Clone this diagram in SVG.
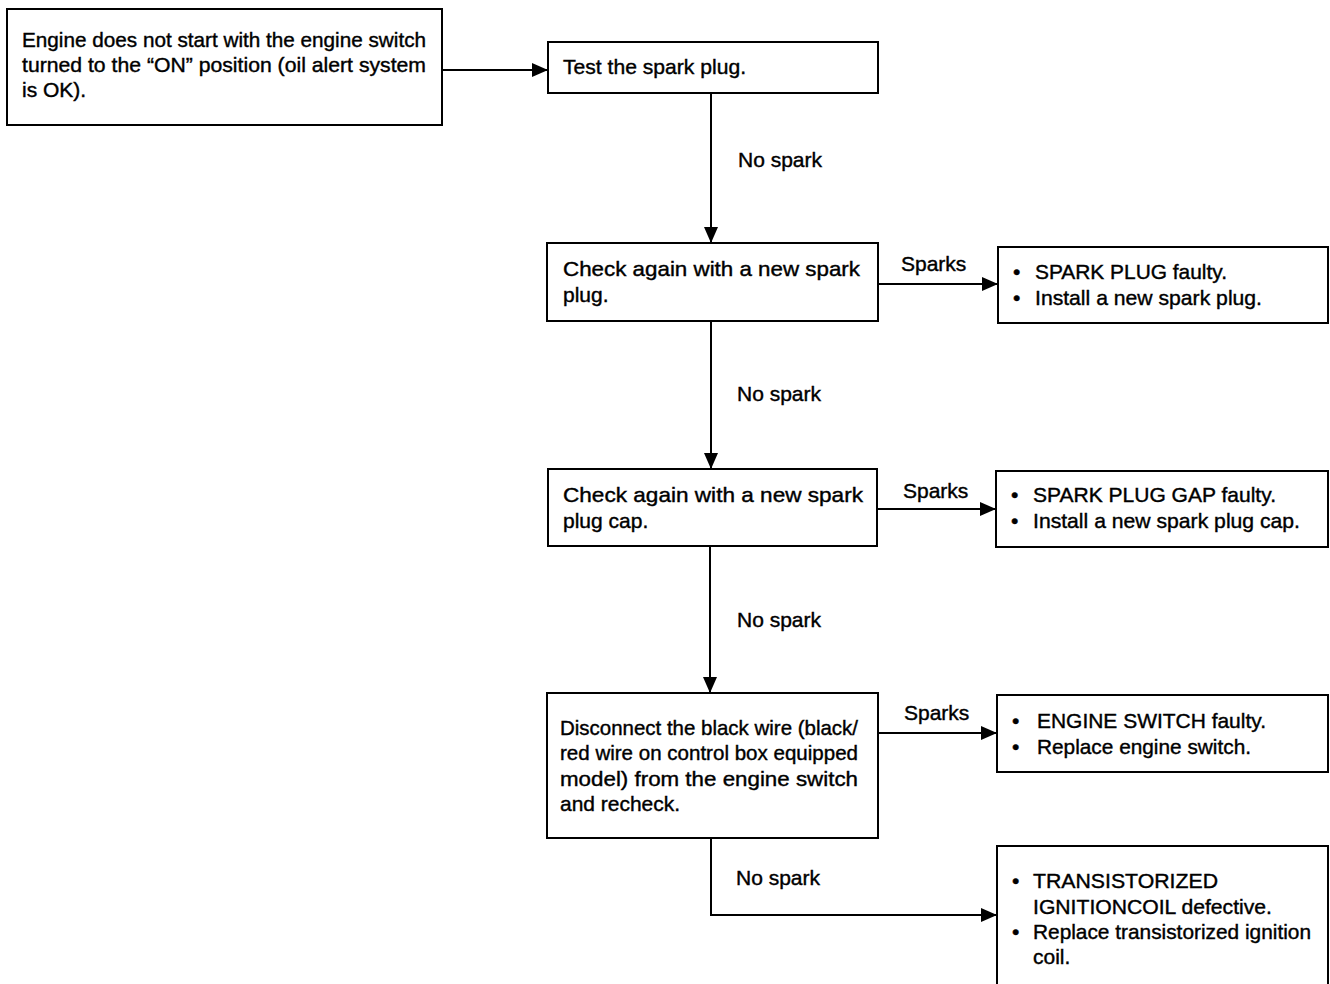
<svg xmlns="http://www.w3.org/2000/svg" width="1330" height="984" viewBox="0 0 1330 984">
<style>
.box{fill:#fff;stroke:#000;stroke-width:2}
.t{font-family:"Liberation Sans",Arial,sans-serif;font-size:21px;fill:#000;stroke:#000;stroke-width:0.4}
.c{fill:none;stroke:#000;stroke-width:2}
</style>
<defs>
<marker id="ah" markerUnits="userSpaceOnUse" markerWidth="16" markerHeight="16" viewBox="0 0 16 16" refX="15" refY="8" orient="auto">
<path d="M0,1 L16,8 L0,15 Z" fill="#000"/>
</marker>
</defs>
<rect width="1330" height="984" fill="#fff"/>
<g id="connectors">
<line class="c" x1="442" y1="70" x2="547" y2="70" marker-end="url(#ah)"/>
<line class="c" x1="711" y1="93" x2="711" y2="242" marker-end="url(#ah)"/>
<line class="c" x1="878" y1="284" x2="997" y2="284" marker-end="url(#ah)"/>
<line class="c" x1="711" y1="321" x2="711" y2="468" marker-end="url(#ah)"/>
<line class="c" x1="877" y1="509" x2="995" y2="509" marker-end="url(#ah)"/>
<line class="c" x1="710" y1="546" x2="710" y2="692" marker-end="url(#ah)"/>
<line class="c" x1="878" y1="733" x2="996" y2="733" marker-end="url(#ah)"/>
<polyline class="c" points="711,838 711,915 996,915" marker-end="url(#ah)"/>
<text class="t" x="738" y="167">No spark</text>
<text class="t" x="737" y="401">No spark</text>
<text class="t" x="737" y="627">No spark</text>
<text class="t" x="736" y="885">No spark</text>
<text class="t" x="901" y="271">Sparks</text>
<text class="t" x="903" y="498">Sparks</text>
<text class="t" x="904" y="720">Sparks</text>
</g>
<g id="start">
<rect class="box" x="7" y="9" width="435" height="116"/>
<text class="t" x="22" y="47" textLength="404" lengthAdjust="spacingAndGlyphs">Engine does not start with the engine switch</text>
<text class="t" x="22" y="72" textLength="404" lengthAdjust="spacingAndGlyphs">turned to the “ON” position (oil alert system</text>
<text class="t" x="22" y="97">is OK).</text>
</g>
<g id="test">
<rect class="box" x="548" y="42" width="330" height="51"/>
<text class="t" x="563" y="74" textLength="183" lengthAdjust="spacingAndGlyphs">Test the spark plug.</text>
</g>
<g id="check-plug">
<rect class="box" x="547" y="243" width="331" height="78"/>
<text class="t" x="563" y="276" textLength="297" lengthAdjust="spacingAndGlyphs">Check again with a new spark</text>
<text class="t" x="563" y="302">plug.</text>
</g>
<g id="check-cap">
<rect class="box" x="548" y="469" width="329" height="77"/>
<text class="t" x="563" y="502" textLength="300" lengthAdjust="spacingAndGlyphs">Check again with a new spark</text>
<text class="t" x="563" y="528">plug cap.</text>
</g>
<g id="disconnect">
<rect class="box" x="547" y="693" width="331" height="145"/>
<text class="t" x="560" y="735" textLength="298" lengthAdjust="spacingAndGlyphs">Disconnect the black wire (black/</text>
<text class="t" x="560" y="760" textLength="298" lengthAdjust="spacingAndGlyphs">red wire on control box equipped</text>
<text class="t" x="560" y="786" textLength="298" lengthAdjust="spacingAndGlyphs">model) from the engine switch</text>
<text class="t" x="560" y="811" textLength="120" lengthAdjust="spacingAndGlyphs">and recheck.</text>
</g>
<g id="r-plug">
<rect class="box" x="998" y="247" width="330" height="76"/>
<text class="t" x="1013" y="279">•</text>
<text class="t" x="1035" y="279" textLength="192" lengthAdjust="spacingAndGlyphs">SPARK PLUG faulty.</text>
<text class="t" x="1013" y="305">•</text>
<text class="t" x="1035" y="305" textLength="227" lengthAdjust="spacingAndGlyphs">Install a new spark plug.</text>
</g>
<g id="r-cap">
<rect class="box" x="996" y="471" width="332" height="76"/>
<text class="t" x="1011" y="502">•</text>
<text class="t" x="1033" y="502" textLength="243" lengthAdjust="spacingAndGlyphs">SPARK PLUG GAP faulty.</text>
<text class="t" x="1011" y="528">•</text>
<text class="t" x="1033" y="528" textLength="267" lengthAdjust="spacingAndGlyphs">Install a new spark plug cap.</text>
</g>
<g id="r-switch">
<rect class="box" x="997" y="695" width="331" height="77"/>
<text class="t" x="1012" y="728">•</text>
<text class="t" x="1037" y="728" textLength="229" lengthAdjust="spacingAndGlyphs">ENGINE SWITCH faulty.</text>
<text class="t" x="1012" y="754">•</text>
<text class="t" x="1037" y="754" textLength="214" lengthAdjust="spacingAndGlyphs">Replace engine switch.</text>
</g>
<g id="r-coil">
<rect class="box" x="997" y="846" width="331" height="150"/>
<text class="t" x="1012" y="888">•</text>
<text class="t" x="1033" y="888" textLength="185" lengthAdjust="spacingAndGlyphs">TRANSISTORIZED</text>
<text class="t" x="1033" y="914" textLength="239" lengthAdjust="spacingAndGlyphs">IGNITIONCOIL defective.</text>
<text class="t" x="1012" y="939">•</text>
<text class="t" x="1033" y="939" textLength="278" lengthAdjust="spacingAndGlyphs">Replace transistorized ignition</text>
<text class="t" x="1033" y="964">coil.</text>
</g>
</svg>
